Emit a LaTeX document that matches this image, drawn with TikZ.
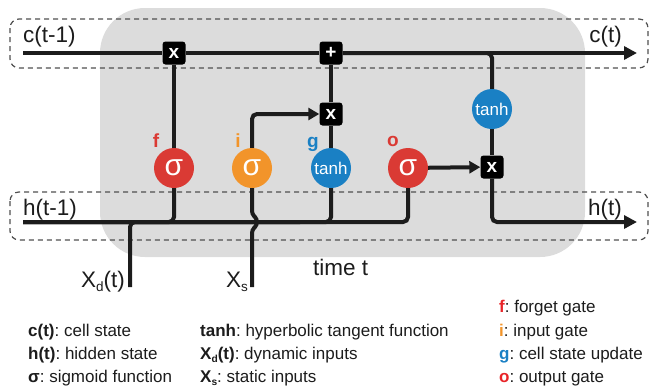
\documentclass[tikz,border=0pt]{standalone}
\usepackage{fontspec}
\setmainfont{Liberation Sans}
\usetikzlibrary{arrows.meta}
\definecolor{gatered}{RGB}{218,58,52}
\definecolor{gateorange}{RGB}{242,148,42}
\definecolor{gateblue}{RGB}{26,128,196}
\definecolor{legred}{RGB}{232,36,40}
\definecolor{linec}{RGB}{28,28,28}
\definecolor{panel}{RGB}{220,220,220}
\definecolor{dashc}{RGB}{80,80,80}
\newcommand\lowsub[1]{\raisebox{-0.4ex}{\scalebox{0.6}{#1}}}
\newcommand\fs[1]{\fontsize{#1}{#1}\selectfont}
\frenchspacing
\tikzset{
  wire/.style={draw=linec, line width=4pt},
  bigtip/.style={-{Triangle[length=13pt,width=13pt]}},
  smalltip/.style={-{Triangle[length=11pt,width=12pt]}},
  opbox/.style={fill=black, rounded corners=3pt, minimum size=23pt, inner sep=0pt, text=white, font=\fs{19}\bfseries},
  gate/.style={circle, fill=#1, minimum size=40pt, inner sep=0pt, text=white},
  sigtxt/.style={font=\fs{30}},
  tanhtxt/.style={font=\fs{17}},
  glabel/.style={anchor=base, font=\fs{19}\bfseries, text=#1},
  biglabel/.style={font=\fs{22.5}, text=linec},
  legend/.style={anchor=base west, font=\fs{17}, text=linec, inner sep=0pt},
  dashbox/.style={draw=dashc, line width=1.2pt, dash pattern=on 5pt off 4pt, rounded corners=9pt},
}
\begin{document}
\begin{tikzpicture}[x=1pt,y=-1pt]
\useasboundingbox (0,0) rectangle (650,391);
% panel and dashed boxes
\fill[panel, rounded corners=45pt] (100,8) rectangle (585,257);
\draw[dashbox] (10,19) rectangle (648,68);
\draw[dashbox] (10,192) rectangle (648,240);
% endpoints
\coordinate (cin) at (23,53);
\coordinate (cout) at (637,53);
\coordinate (hin) at (23,222);
\coordinate (hout) at (637,222);
\coordinate (hmid) at (300,222);
\coordinate (xdfoot) at (130,287);
\coordinate (xsfoot) at (252,287);
\coordinate (jogA) at (252,214);
\coordinate (jogB) at (257,219);
\coordinate (jogC) at (257,225);
\coordinate (jogD) at (252,230);
% operation boxes
\node[opbox] (fx) at (174,53) {x};
\node[opbox] (plus) at (331,53) {+};
\node[opbox] (ix) at (331,114) {x};
\node[opbox] (ox) at (492,167) {x};
% gates
\node[gate=gatered, sigtxt] (f) at (174,168) {σ};
\node[gate=gateorange, sigtxt] (i) at (252,168) {σ};
\node[gate=gateblue, tanhtxt] (g) at (331,168) {tanh};
\node[gate=gatered, sigtxt] (o) at (408,168) {σ};
\node[gate=gateblue, tanhtxt] (tc) at (492,109) {tanh};
% gate letters
\node[glabel=gatered] (lf) at (156,147) {f};
\node[glabel=gateorange] (li) at (238,147) {i};
\node[glabel=gateblue] (lg) at (313,147) {g};
\node[glabel=gatered] (lo) at (393,146) {o};
% state labels
\node[biglabel, anchor=base west, inner sep=0pt] (lc1) at (23,42) {c(t-1)};
\node[biglabel, anchor=base east, inner sep=0pt] (lc2) at (622,42) {c(t)};
\node[biglabel, anchor=base west, inner sep=0pt] (lh1) at (23,215) {h(t-1)};
\node[biglabel, anchor=base east, inner sep=0pt] (lh2) at (622,215) {h(t)};
\node[biglabel, anchor=base east, inner sep=0pt] (lxd) at (125,287) {X\lowsub{d}(t)};
\node[biglabel, anchor=base east, inner sep=0pt] (lxs) at (248,287) {X\lowsub{s}};
\node[biglabel, anchor=base west, inner sep=0pt] (lt) at (313,275) {time t};
% connectors
\draw[wire, bigtip] (cin) -- (fx) -- (plus) -- (cout);
\draw[wire, rounded corners=5pt] (plus) -| (tc);
\draw[wire] (tc) -- (ox);
\draw[wire, rounded corners=5pt, bigtip] (ox) |- (hout);
\draw[wire, smalltip] (o) -- (ox);
\draw[wire, rounded corners=5pt] (hin) -| (o);
\draw[wire, rounded corners=5pt] (f) |- (hin);
\draw[wire] (f) -- (fx);
\draw[wire, rounded corners=5pt] (g) |- (hin);
\draw[wire] (g) -- (ix) -- (plus);
\draw[wire, rounded corners=5pt, smalltip] (i) |- (ix);
\draw[wire, rounded corners=3pt] (i) -- (jogA) -- (jogB) -- (jogC) -- (jogD) -- (xsfoot);
\draw[wire, rounded corners=5pt] (xdfoot) |- (hmid);
% legend
\node[legend] (k1) at (28,336) {\textbf{c(t)}: cell state};
\node[legend] (k2) at (28,359) {\textbf{h(t)}: hidden state};
\node[legend] (k3) at (28,382) {\textbf{σ}: sigmoid function};
\node[legend] (k4) at (200,336) {\textbf{tanh}: hyperbolic tangent function};
\node[legend] (k5) at (200,359) {\textbf{X\lowsub{d}(t)}: dynamic inputs};
\node[legend] (k6) at (200,382) {\textbf{X\lowsub{s}}: static inputs};
\node[legend] (k7) at (499,312) {\textbf{\textcolor{legred}{f}}: forget gate};
\node[legend] (k8) at (499,336) {\textbf{\textcolor{gateorange}{i}}: input gate};
\node[legend] (k9) at (499,359) {\textbf{\textcolor{gateblue}{g}}: cell state update};
\node[legend] (k10) at (499,382) {\textbf{\textcolor{legred}{o}}: output gate};
\end{tikzpicture}
\end{document}
